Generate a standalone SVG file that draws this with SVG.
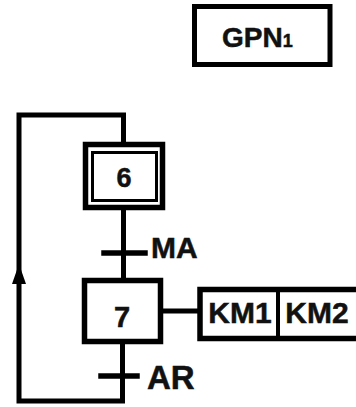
<svg xmlns="http://www.w3.org/2000/svg" width="356" height="407" viewBox="0 0 356 407">
<style>
.ln{fill:none;stroke:#000;stroke-linecap:square}
.box{fill:#fff;stroke:#000}
.t{font-family:"Liberation Sans",Arial,sans-serif;font-weight:bold;fill:#111;stroke:#111;stroke-width:0.5}
</style>
<rect width="356" height="407" fill="#fff"/>
<g id="connectors">
<path class="ln" d="M123.5 144 V115 H19 V401 H122.5 V340" stroke-width="5"/>
<path class="ln" d="M123.5 210 V280" stroke-width="5"/>
<path class="ln" d="M104 253 H145" stroke-width="5.5" stroke-linecap="round"/>
<path class="ln" d="M101 376 H137" stroke-width="5.5" stroke-linecap="round"/>
<path class="ln" d="M163 311 H198" stroke-width="5"/>
<polygon points="19,264 12,284 26,284" fill="#000"/>
</g>
<g id="gpn">
<rect class="box" x="194.5" y="6.5" width="135.5" height="58" stroke-width="5"/>
<text class="t" x="222" y="47" font-size="28">GPN<tspan font-size="18">1</tspan></text>
</g>
<g id="step6">
<rect class="box" x="85.5" y="144.5" width="77" height="63" stroke-width="5.5"/>
<rect class="box" x="92.5" y="152.5" width="64" height="48" stroke-width="3"/>
<text class="t" x="124" y="187" font-size="27" text-anchor="middle">6</text>
</g>
<g id="t-MA">
<text class="t" x="151" y="258" font-size="30">MA</text>
</g>
<g id="step7">
<rect class="box" x="84.5" y="280.5" width="76" height="61" stroke-width="5.5"/>
<text class="t" x="122" y="327" font-size="29" text-anchor="middle">7</text>
</g>
<g id="actions">
<rect class="box" x="200" y="289.5" width="162" height="49" stroke-width="5.5"/>
<line class="ln" x1="278" y1="289.5" x2="278" y2="338.5" stroke-width="4"/>
<text class="t" x="240" y="323" font-size="30" text-anchor="middle">KM1</text>
<text class="t" x="317" y="323" font-size="30" text-anchor="middle">KM2</text>
</g>
<g id="t-AR">
<text class="t" x="147" y="389" font-size="33">AR</text>
</g>
</svg>
